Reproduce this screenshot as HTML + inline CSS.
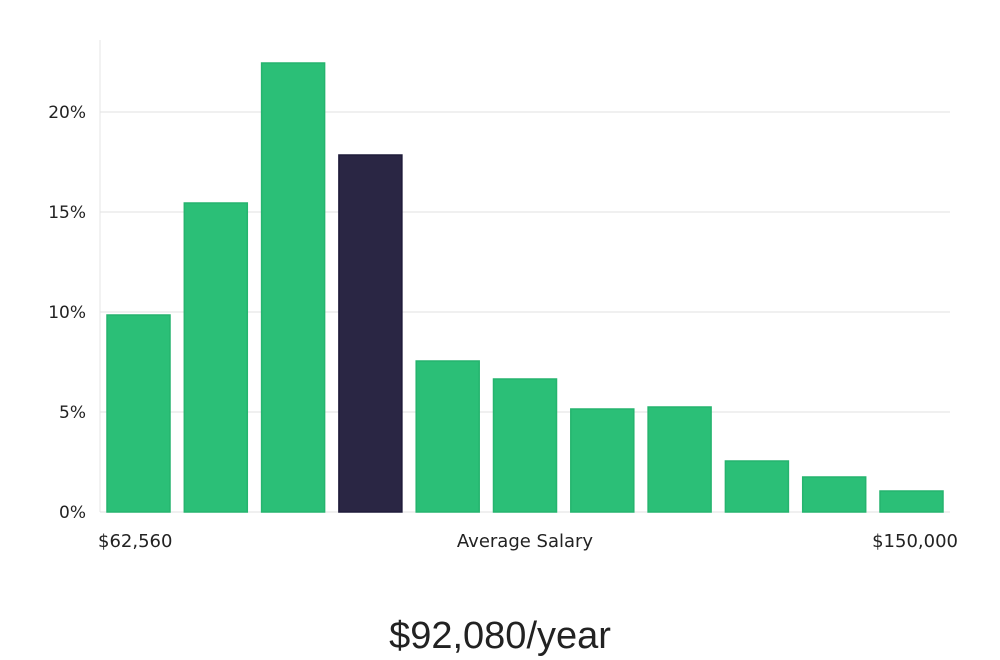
<!DOCTYPE html>
<html><head><meta charset="utf-8"><style>
html,body{margin:0;padding:0;background:#fff;}
svg{display:block;font-family:"DejaVu Sans","Liberation Sans",sans-serif;}
</style></head><body>
<svg width="1000" height="660" viewBox="0 0 1000 660">
<g id="grid"></g><g id="bars"></g><g id="yticks"></g>
<line x1="100" y1="40" x2="100" y2="512" stroke="#e4e4e4" stroke-width="1"/>
<text x="98" y="547" font-size="18" fill="#222">$62,560</text>
<text x="525" y="547" font-size="18" fill="#222" text-anchor="middle">Average Salary</text>
<text x="958" y="547" font-size="18" fill="#222" text-anchor="end">$150,000</text>
<text x="500" y="648" font-size="38" fill="#222" text-anchor="middle" font-family="'Liberation Sans',sans-serif">$92,080/year</text>
</svg>
<script>
const values = [9.85, 15.45, 22.45, 17.85, 7.55, 6.65, 5.15, 5.25, 2.55, 1.75, 1.05];
const highlight = [false, false, false, true, false, false, false, false, false, false, false];
const tickValues = [0, 5, 10, 15, 20];
const tickLabels = ["0%", "5%", "10%", "15%", "20%"];
const NS = "http://www.w3.org/2000/svg";
const y = v => 512 - v * 20;
const x = i => 107 + i * 77.3;
const bw = 63;
const grid = document.getElementById('grid'), bars = document.getElementById('bars'), yt = document.getElementById('yticks');
tickValues.forEach((t, i) => {
  if (t > 0) {
    const l = document.createElementNS(NS, 'line');
    
    
    l.setAttribute('x1', 100); l.setAttribute('x2', 950);
    l.setAttribute('y1', y(t)); l.setAttribute('y2', y(t));
    l.setAttribute('stroke', '#e2e2e2'); l.setAttribute('stroke-width', 1);
    grid.appendChild(l);
  }
  const tx = document.createElementNS(NS, 'text');
  
  
  tx.setAttribute('x', 86); tx.setAttribute('y', y(t) + 6);
  tx.setAttribute('text-anchor', 'end'); tx.setAttribute('font-size', 17); tx.setAttribute('fill', '#222');
  tx.textContent = tickLabels[i];
  yt.appendChild(tx);
});
const base = document.createElementNS(NS, 'line');


base.setAttribute('x1', 100); base.setAttribute('x2', 950); base.setAttribute('y1', 512); base.setAttribute('y2', 512);
base.setAttribute('stroke', '#e2e2e2');
grid.appendChild(base);
values.forEach((v, i) => {
  const r = document.createElementNS(NS, 'rect');
  
  
  r.setAttribute('x', x(i)); r.setAttribute('y', y(v));
  r.setAttribute('width', bw); r.setAttribute('height', 512 - y(v));
  r.setAttribute('fill', highlight[i] ? '#2a2644' : '#2bbf77');
  r.setAttribute('stroke', highlight[i] ? '#1e1b3a' : '#25b46e');
  r.setAttribute('stroke-width', 1.5);
  bars.appendChild(r);
});
</script>
</body></html>
